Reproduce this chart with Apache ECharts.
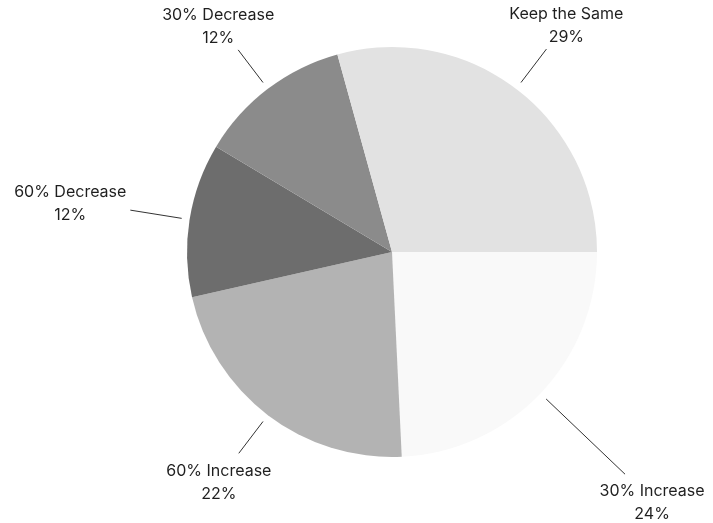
<!DOCTYPE html>
<html>
<head>
<meta charset="utf-8">
<script src="https://cdn.jsdelivr.net/npm/echarts@6/dist/echarts.min.js"></script>
<style>
  html, body { margin: 0; padding: 0; background: #ffffff; }
  #chart { width: 713px; height: 523px; }
</style>
</head>
<body>
<div id="chart"></div>
<script>
// Data (shares in percent)
const categories = ['30% Increase', '60% Increase', '60% Decrease', '30% Decrease', 'Keep the Same'];
const shares = [24, 22, 12, 12, 29];

// Styling (kept apart from the data)
const sliceColors = ['#f9f9f9', '#b3b3b3', '#6d6d6d', '#8b8b8b', '#e2e2e2'];
const leaderLengths = [117, 48, 60, 49, 50];

const chart = echarts.init(document.getElementById('chart'), null, { renderer: 'canvas' });

const LINE_GAP = 8;   // gap between the pie edge and the start of the leader line
const TEXT_GAP = 4;   // gap between the leader line end and the text box
const TEXT_SHIFT_Y = 3;

chart.setOption({
  animation: false,
  backgroundColor: '#ffffff',
  series: [{
    type: 'pie',
    center: [392, 252],
    radius: 205,
    startAngle: 0,
    clockwise: true,
    avoidLabelOverlap: false,
    itemStyle: { borderWidth: 0 },
    label: {
      show: true,
      position: 'outside',
      formatter: function (p) { return p.name + '\n' + p.value + '%'; },
      fontFamily: 'Inter, "Noto Sans", sans-serif',
      fontSize: 16,
      lineHeight: 23,
      color: '#1f1f1f'
    },
    labelLine: {
      show: true,
      length2: 0,
      smooth: false,
      lineStyle: { color: '#333333', width: 1 }
    },
    labelLayout: function (params) {
      const pts = params.labelLinePoints;
      if (!pts || pts.length < 2) return {};
      const p0 = pts[0], p1 = pts[1];
      let ux = p1[0] - p0[0], uy = p1[1] - p0[1];
      const len = Math.sqrt(ux * ux + uy * uy) || 1;
      ux /= len; uy /= len;
      const w = params.labelRect.width, h = params.labelRect.height;
      const tx = Math.abs(ux) > 1e-6 ? (w / 2) / Math.abs(ux) : Infinity;
      const ty = Math.abs(uy) > 1e-6 ? (h / 2) / Math.abs(uy) : Infinity;
      const t = Math.min(tx, ty) + TEXT_GAP;
      return {
        x: p1[0] + ux * t,
        y: p1[1] + uy * t + TEXT_SHIFT_Y,
        align: 'center',
        verticalAlign: 'middle',
        labelLinePoints: [
          [p0[0] + ux * LINE_GAP, p0[1] + uy * LINE_GAP],
          [p1[0], p1[1]]
        ]
      };
    },
    emphasis: { disabled: true },
    data: categories.map(function (name, i) {
      return {
        name: name,
        value: shares[i],
        itemStyle: { color: sliceColors[i] },
        labelLine: { length: leaderLengths[i] }
      };
    })
  }]
});
</script>
</body>
</html>
